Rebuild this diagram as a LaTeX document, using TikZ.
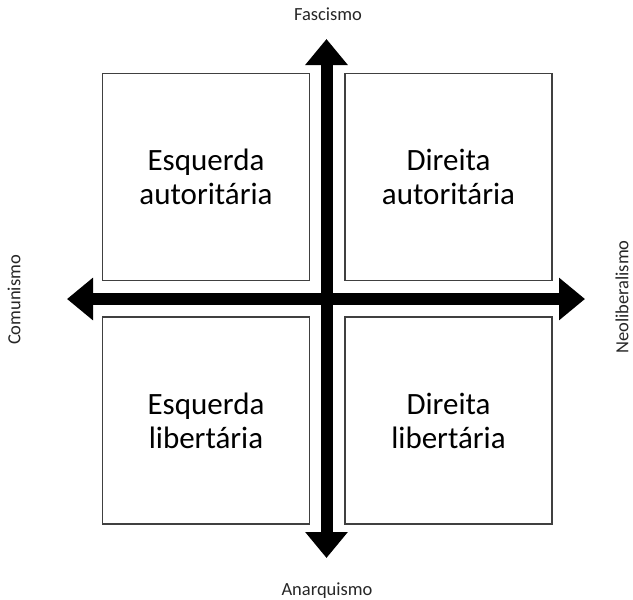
\documentclass[tikz,border=0pt]{standalone}
\usepackage{fontspec}
\setmainfont{Carlito}
\usetikzlibrary{arrows.meta}
\begin{document}
\begin{tikzpicture}[x=1pt,y=-1pt,
  quad/.style={draw=black!75,line width=1.2pt,minimum width=207pt,minimum height=207pt,
    inner sep=0pt,align=center,font=\fontsize{31}{34}\selectfont},
  axislabel/.style={inner sep=0pt,font=\fontsize{18.5}{22}\selectfont,text=black!85},
  axis/.style={line width=12pt,{Triangle[length=26pt,width=41pt]}-{Triangle[length=26pt,width=41pt]}}]
\useasboundingbox (0,0) rectangle (633,600);
\node[quad] (tl) at (206,177) {Esquerda\\autoritária};
\node[quad] (tr) at (448.5,177) {Direita\\autoritária};
\node[quad] (bl) at (206,420.5) {Esquerda\\libertária};
\node[quad] (br) at (448.5,420.5) {Direita\\libertária};
\coordinate (W) at (67,299);
\coordinate (E) at (585,299);
\coordinate (N) at (326.5,39);
\coordinate (S) at (326.5,558);
\draw[axis] (W) -- (E);
\draw[axis] (N) -- (S);
\node[axislabel,anchor=base] (fasc) at (328,20) {Fascismo};
\node[axislabel,anchor=base] (anar) at (327,595) {Anarquismo};
\node[axislabel,rotate=90] (com) at (14,300) {Comunismo};
\node[axislabel,rotate=90] (neo) at (622,297) {Neoliberalismo};
\end{tikzpicture}
\end{document}
